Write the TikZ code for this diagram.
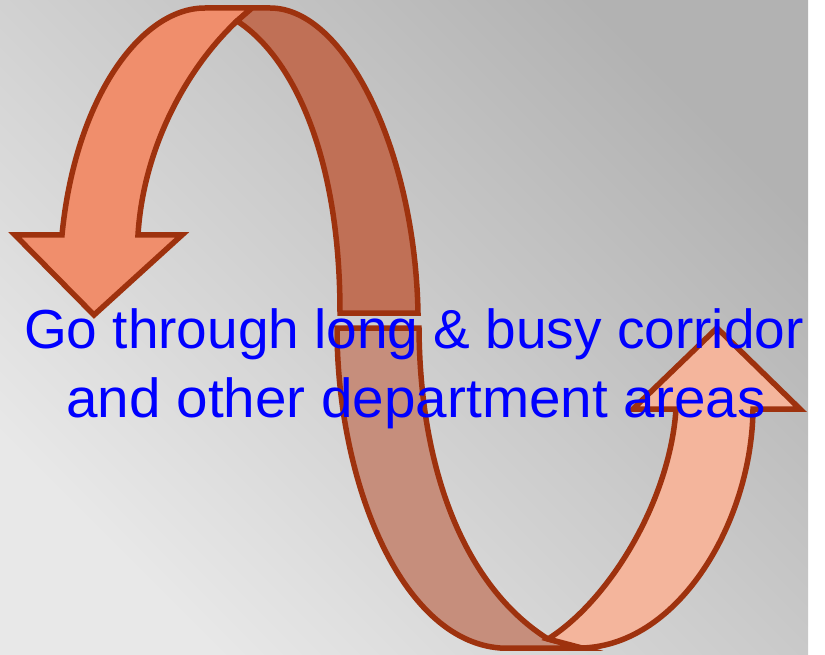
\documentclass[tikz,border=0pt]{standalone}
\usepackage{fontspec}
\newfontfamily\labelfont{Liberation Sans}
\definecolor{bgdark}{RGB}{178,178,178}
\definecolor{bglight}{RGB}{232,232,232}
\definecolor{rim}{RGB}{158,50,14}
\definecolor{bandA}{RGB}{240,142,108}
\definecolor{bandB}{RGB}{192,112,86}
\definecolor{bandC}{RGB}{198,142,124}
\definecolor{bandD}{RGB}{244,181,156}
\begin{document}
\begin{tikzpicture}[x=1pt,y=-1pt,
  band/.style={draw=rim, line width=5.5pt, line join=miter},
  caption/.style={text=blue, font=\labelfont\fontsize{55}{69}\selectfont, anchor=base, inner sep=0pt}]
\useasboundingbox (0,0) rectangle (825,655);
\fill[white] (0,0) rectangle (825,655);
\shade[top color=bgdark, bottom color=bglight, shading angle=-45] (0,0) rectangle (808,655);

% upper-left band with downward arrow head
\path[band, fill=bandA] (62,235) .. controls (75,100) and (140,8) .. (205,8) -- (252,8)
  -- (237,21) .. controls (185,70) and (143,150) .. (138,235)
  -- (182,235) -- (94,315) -- (15,235) -- cycle;

% upper-right band (back side of the loop)
\path[band, fill=bandB] (252,8) -- (270,8) .. controls (345,8) and (415,150) .. (418,313)
  -- (340,313) .. controls (340,150) and (290,55) .. (237,21) -- cycle;

% lower-left band
\path[band, fill=bandC] (337,328) -- (419,328) .. controls (420,480) and (470,590) .. (548,639)
  -- (582,648) -- (500,648) .. controls (400,640) and (337,480) .. (337,328) -- cycle;

% lower-right band with upward arrow head
\path[band, fill=bandD] (548,639) .. controls (610,600) and (670,500) .. (676,409)
  -- (633,409) -- (717,328) -- (800,409) -- (753,409)
  .. controls (752,520) and (680,645) .. (582,648) -- cycle;

\node[caption] (line1) at (414,348) {Go through long \& busy corridor};
\node[caption, xscale=1.03, transform shape] (line2) at (416,417) {and other department areas};
\end{tikzpicture}
\end{document}
